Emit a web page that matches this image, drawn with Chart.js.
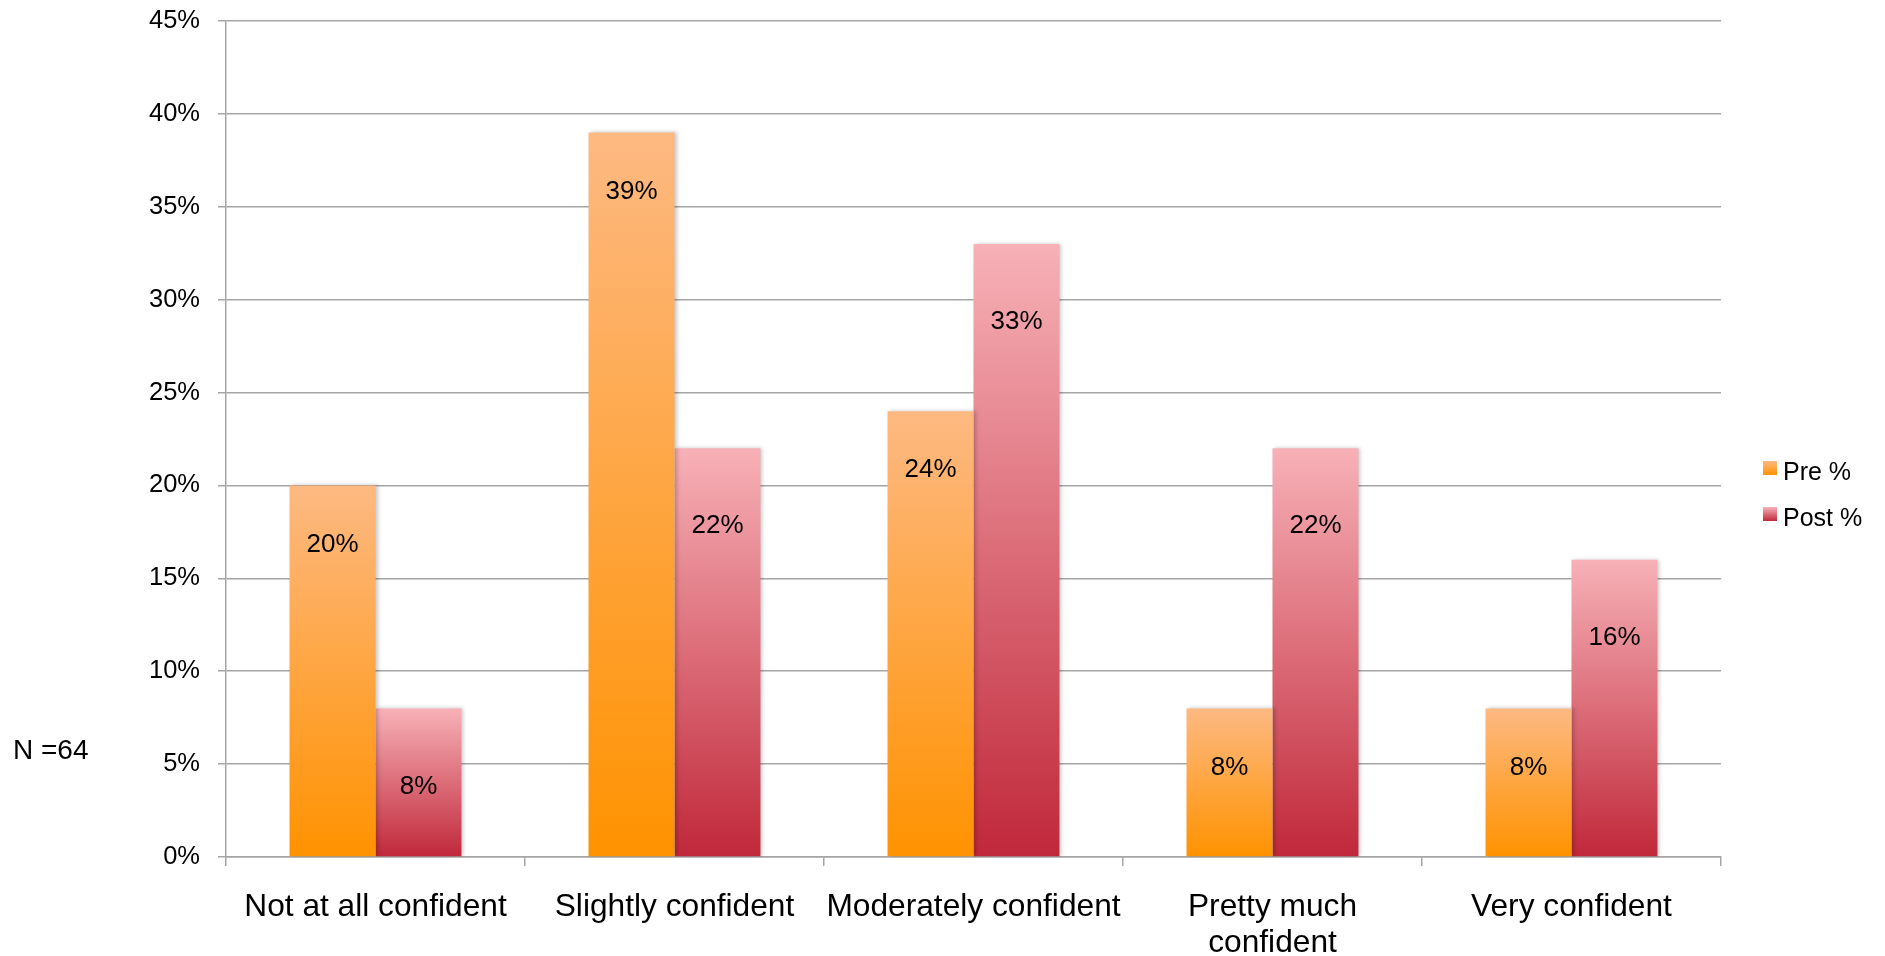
<!DOCTYPE html>
<html>
<head>
<meta charset="utf-8">
<script src="https://cdn.jsdelivr.net/npm/chart.js@4/dist/chart.umd.min.js"></script>
<style>
  html, body { margin: 0; padding: 0; background: #fff; }
  #wrap { width: 1885px; height: 956px; position: relative; }
</style>
</head>
<body>
<div id="wrap"><canvas id="myChart"></canvas></div>
<script>
const categories = ['Not at all confident', 'Slightly confident', 'Moderately confident', ['Pretty much', 'confident'], 'Very confident'];
const preValues = [20, 39, 24, 8, 8];
const postValues = [8, 22, 33, 22, 16];
const yTicks = [0, 5, 10, 15, 20, 25, 30, 35, 40, 45];
const sampleNote = 'N =64';

const FONT = '"Liberation Sans", Arial, Helvetica, sans-serif';
const preColors = ['#fdb982', '#ff9200'];
const postColors = ['#f7b1b7', '#c0283a'];

function barFill(colors) {
  return function (ctx) {
    const chart = ctx.chart;
    const y = chart.scales.y;
    if (ctx.type !== 'data' || !y || !chart.chartArea) return colors[1];
    const top = y.getPixelForValue(ctx.raw);
    const base = y.getPixelForValue(0);
    const g = chart.ctx.createLinearGradient(0, top, 0, base);
    g.addColorStop(0, colors[0]);
    g.addColorStop(1, colors[1]);
    return g;
  };
}

// bar shadow + value labels inside the top of each bar
const barExtras = {
  id: 'barExtras',
  beforeDatasetsDraw(chart) {
    const c = chart.ctx;
    c.save();
    c.shadowColor = 'rgba(0,0,0,0.22)';
    c.shadowBlur = 4;
    c.shadowOffsetX = 2;
  },
  afterDatasetsDraw(chart) {
    const c = chart.ctx;
    c.restore();
    c.save();
    c.font = '26px ' + FONT;
    c.fillStyle = '#000';
    c.textAlign = 'center';
    c.textBaseline = 'middle';
    chart.data.datasets.forEach((ds, i) => {
      const drop = i === 0 ? 59 : 78;
      chart.getDatasetMeta(i).data.forEach((bar, j) => {
        c.fillText(ds.data[j] + '%', bar.x, bar.y + drop);
      });
    });
    c.restore();
  }
};

// legend on the right and the N note on the left
const sideText = {
  id: 'sideText',
  afterDraw(chart) {
    const c = chart.ctx;
    const area = chart.chartArea;
    c.save();
    chart.data.datasets.forEach((ds, i) => {
      const top = 461 + i * 46;
      const colors = i === 0 ? preColors : postColors;
      const g = c.createLinearGradient(0, top, 0, top + 14);
      g.addColorStop(0, colors[0]);
      g.addColorStop(1, colors[1]);
      c.fillStyle = g;
      c.fillRect(area.right + 42, top, 14, 14);
      c.fillStyle = '#000';
      c.font = '25px ' + FONT;
      c.textAlign = 'left';
      c.textBaseline = 'alphabetic';
      c.fillText(ds.label, area.right + 62, top + 19);
    });
    c.font = '28px ' + FONT;
    c.fillText(sampleNote, 13, 759);
    c.restore();
  }
};

const ctx = document.getElementById('myChart').getContext('2d');
const myChart = new Chart(ctx, {
  type: 'bar',
  data: {
    labels: categories,
    datasets: [
      {
        label: 'Pre %',
        data: preValues,
        backgroundColor: barFill(preColors),
        borderWidth: 0
      },
      {
        label: 'Post %',
        data: postValues,
        backgroundColor: barFill(postColors),
        borderWidth: 0
      }
    ]
  },
  options: {
    responsive: true,
    maintainAspectRatio: false,
    animation: false,
    layout: { padding: { left: 0, right: 164, top: 21, bottom: 0 } },
    datasets: { bar: { categoryPercentage: 0.575, barPercentage: 1 } },
    plugins: {
      legend: { display: false },
      tooltip: { enabled: false }
    },
    scales: {
      x: {
        grid: {
          offset: true,
          drawOnChartArea: false,
          drawTicks: true,
          tickLength: 9,
          color: '#a5a5a5',
          lineWidth: 1.5
        },
        border: { color: '#a5a5a5', width: 1.5 },
        ticks: {
          color: '#000',
          padding: 23,
          maxRotation: 0,
          autoSkip: false,
          font: { family: FONT, size: 31.7, lineHeight: 1.15 }
        },
        afterFit(scale) { scale.height = 99; }
      },
      y: {
        min: 0,
        max: 45,
        afterBuildTicks(scale) { scale.ticks = yTicks.map(v => ({ value: v })); },
        grid: {
          color: '#a5a5a5',
          lineWidth: 1.5,
          tickLength: 8
        },
        border: { color: '#a5a5a5', width: 1.5 },
        ticks: {
          color: '#000',
          padding: 18,
          font: { family: FONT, size: 25.5 },
          callback: v => v + '%'
        },
        afterFit(scale) {
          scale.width = 226;
          scale.paddingTop = 0;
          scale.paddingBottom = 0;
        }
      }
    }
  },
  plugins: [barExtras, sideText]
});
</script>
</body>
</html>
